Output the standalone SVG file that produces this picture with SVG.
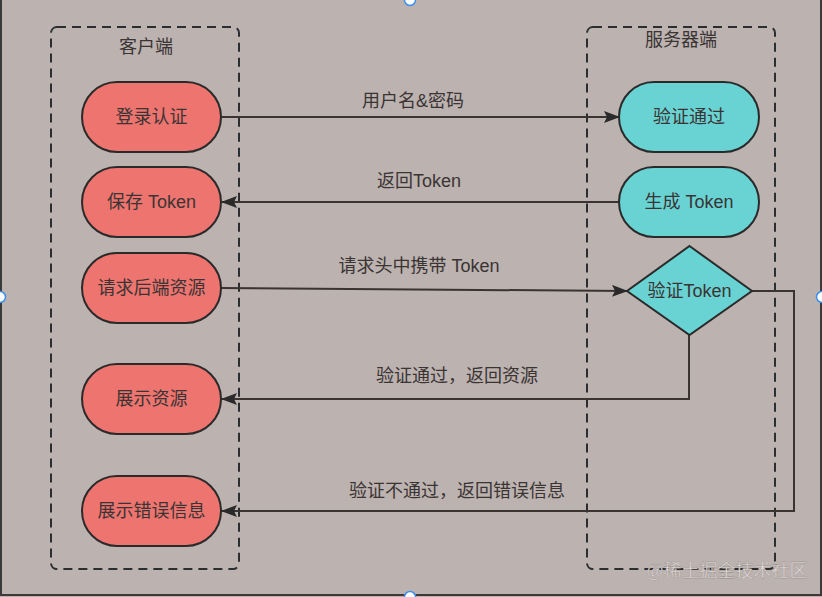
<svg xmlns="http://www.w3.org/2000/svg" width="822" height="597" viewBox="0 0 822 597">
<defs>
<style>
.bg{fill:#bcb2af}
.grp{fill:none;stroke:#2a2e30;stroke-width:2;stroke-dasharray:9 6}
.c{fill:#ee7470;stroke:#2a2a2a;stroke-width:2}
.s{fill:#69d3d3;stroke:#2a2a2a;stroke-width:2}
.t{font-family:"Liberation Sans","Noto Sans CJK SC",sans-serif;font-size:18px;fill:#3a3434;text-anchor:middle;dominant-baseline:central}
.ln{fill:none;stroke:#3a3332;stroke-width:2}
.h{fill:#fff;stroke:#3b8ff0;stroke-width:1.5}
</style>
<marker id="arb" viewBox="0 0 16 12" refX="15" refY="6" markerWidth="16" markerHeight="12" markerUnits="userSpaceOnUse" orient="auto">
<path d="M0,0 L16,6 L0,12 L3,6 Z" fill="#2a2a2a"/>
</marker>
</defs>
<rect class="bg" x="0" y="0" width="822" height="597"/>
<path d="M1,0 V595 H821 V0" fill="none" stroke="#3a3a3a" stroke-width="2"/>

<g id="client-group">
<rect class="grp" x="51" y="27" width="188" height="542" rx="6"/>
<text class="t" x="146" y="47">客户端</text>
</g>
<g id="server-group">
<rect class="grp" x="587" y="27" width="188" height="542" rx="6"/>
<text class="t" x="681" y="40">服务器端</text>
</g>

<g id="connectors">
<line class="ln" x1="221" y1="117" x2="619" y2="117" marker-end="url(#arb)"/>
<text class="t" x="413" y="101">用户名&amp;密码</text>
<line class="ln" x1="619" y1="202" x2="222" y2="202" marker-end="url(#arb)"/>
<text class="t" x="419" y="181">返回Token</text>
<line class="ln" x1="221" y1="288" x2="627" y2="291" marker-end="url(#arb)"/>
<text class="t" x="419" y="266">请求头中携带 Token</text>
<polyline class="ln" points="689,335 689,399 222,399" marker-end="url(#arb)"/>
<text class="t" x="457" y="376">验证通过，返回资源</text>
<polyline class="ln" points="752,291 794,291 794,511 222,511" marker-end="url(#arb)"/>
<text class="t" x="457" y="491">验证不通过，返回错误信息</text>
</g>

<g id="login"><rect class="c" x="82" y="82" width="139" height="70" rx="35"/><text class="t" x="151.5" y="117">登录认证</text></g>
<g id="save-token"><rect class="c" x="82" y="167" width="139" height="70" rx="35"/><text class="t" x="151.5" y="202">保存 Token</text></g>
<g id="request"><rect class="c" x="82" y="253" width="139" height="70" rx="35"/><text class="t" x="151.5" y="288">请求后端资源</text></g>
<g id="show-res"><rect class="c" x="82" y="364" width="139" height="70" rx="35"/><text class="t" x="151.5" y="399">展示资源</text></g>
<g id="show-err"><rect class="c" x="82" y="476" width="139" height="70" rx="35"/><text class="t" x="151.5" y="511">展示错误信息</text></g>

<g id="verify-pass"><rect class="s" x="619" y="82" width="140" height="70" rx="35"/><text class="t" x="689" y="117">验证通过</text></g>
<g id="gen-token"><rect class="s" x="619" y="167" width="140" height="70" rx="35"/><text class="t" x="689" y="202">生成 Token</text></g>
<g id="verify-token"><polygon class="s" points="689.5,246 752,291 689.5,335 627,291"/><text class="t" x="689.5" y="291">验证Token</text></g>

<text x="727" y="569" style="font-family:'Noto Sans CJK SC',sans-serif;font-size:18px;fill:#e2dcda;stroke:#8a8280;stroke-width:0.3;text-anchor:middle;dominant-baseline:central">@稀土掘金技术社区</text>

<circle class="h" cx="410" cy="0" r="5.5"/>
<circle class="h" cx="0" cy="297" r="5.5"/>
<circle class="h" cx="822" cy="297" r="5.5"/>
<circle class="h" cx="410" cy="597" r="5.5"/>
</svg>
